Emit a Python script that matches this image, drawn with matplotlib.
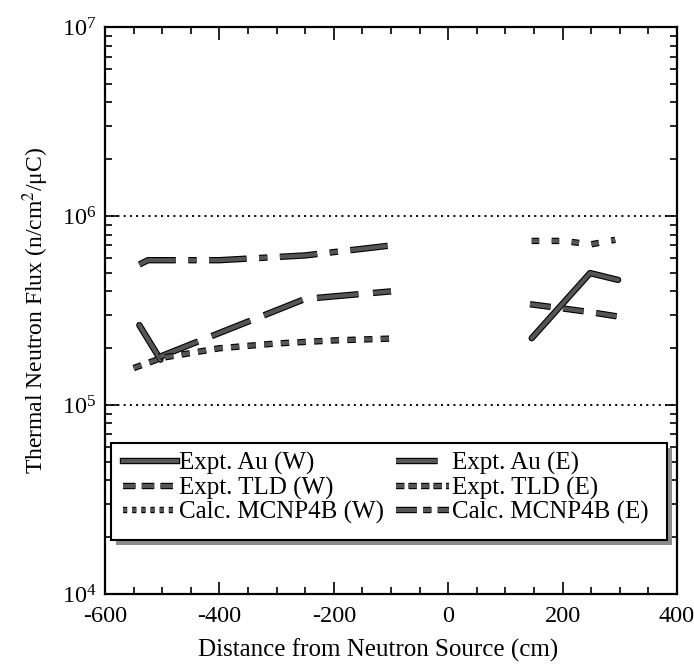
import matplotlib
matplotlib.use("Agg")
import matplotlib.pyplot as plt
import matplotlib.patheffects as pe
from matplotlib.lines import Line2D
from matplotlib.patches import Rectangle
from matplotlib.ticker import MultipleLocator, LogLocator, NullFormatter

plt.rcParams['font.family'] = ['Liberation Serif', 'DejaVu Serif']
plt.rcParams['mathtext.fontset'] = 'stix'
plt.rcParams['axes.unicode_minus'] = False

# West side series
au_w_x = [-540, -503]
au_w_y = [2.65e5, 1.74e5]

tld_w_x = [-505, -250, -100]
tld_w_y = [1.80e5, 3.65e5, 4.00e5]

calc_w_x = [-550, -500, -400, -300, -200, -100]
calc_w_y = [1.57e5, 1.78e5, 2.00e5, 2.12e5, 2.20e5, 2.25e5]

calc_e_x = [-540, -525, -400, -250, -100]
calc_e_y = [5.55e5, 5.85e5, 5.85e5, 6.20e5, 7.00e5]

# East side series
au_e_x = [146, 248, 297]
au_e_y = [2.26e5, 5.00e5, 4.60e5]

tld_e_x = [143, 200, 250, 295]
tld_e_y = [3.42e5, 3.25e5, 3.10e5, 2.95e5]

top_e_x = [146, 200, 250, 292]
top_e_y = [7.40e5, 7.40e5, 7.10e5, 7.50e5]

labels = ["Expt. Au (W)", "Expt. Au (E)", "Expt. TLD (W)", "Expt. TLD (E)",
          "Calc. MCNP4B (W)", "Calc. MCNP4B (E)"]

fig = plt.figure(figsize=(6.94, 6.68), dpi=100)
ax = fig.add_axes([0.1513, 0.1108, 0.8242, 0.8483])

lc = '#555555'
lw = 3.0
peff = [pe.Stroke(linewidth=lw + 1.6, foreground='black'), pe.Normal()]

def draw(x, y, dashes=None):
    kw = dict(color=lc, lw=lw, path_effects=peff, solid_capstyle='round',
              dash_capstyle='butt')
    if dashes is None:
        ax.plot(x, y, '-', **kw)
    else:
        ax.plot(x, y, dashes=dashes, **kw)

draw(au_w_x, au_w_y)
draw(tld_w_x, tld_w_y, dashes=(10, 3.5))
draw(calc_w_x, calc_w_y, dashes=(2, 2))
draw(calc_e_x, calc_e_y, dashes=(9, 3, 2, 3))
draw(au_e_x, au_e_y)
draw(tld_e_x, tld_e_y, dashes=(5, 3))
draw(top_e_x, top_e_y, dashes=(1.8, 3))

ax.set_yscale('log')
ax.set_xlim(-600, 400)
ax.set_ylim(1e4, 1e7)
ax.xaxis.set_major_locator(MultipleLocator(200))
ax.xaxis.set_minor_locator(MultipleLocator(50))
ax.yaxis.set_major_locator(LogLocator(base=10, numticks=10))
ax.yaxis.set_minor_locator(LogLocator(base=10, subs=range(2, 10), numticks=20))
ax.yaxis.set_minor_formatter(NullFormatter())
ax.tick_params(which='both', direction='in', top=True, right=True, width=1.2)
ax.tick_params(which='major', length=9, labelsize=17.5)
ax.tick_params(axis='x', which='major', pad=9)
ax.tick_params(axis='y', which='major', pad=6)
ax.tick_params(which='minor', length=5)
for s in ax.spines.values():
    s.set_linewidth(1.6)

for yv in [1e5, 1e6]:
    ax.axhline(yv, color='black', lw=1.4, ls=(0, (1, 2.2)), zorder=1)

ax.set_xlabel("Distance from Neutron Source (cm)", fontsize=18)
ax.xaxis.set_label_coords(0.477, -0.079)
ax.set_ylabel("Thermal Neutron Flux (n/cm$^2$/\u03bcC)", fontsize=17, labelpad=8)

# legend frame with shadow (axes fraction)
fx, fy, fw, fh = 0.0105, 0.0953, 0.972, 0.171
ax.add_patch(Rectangle((fx + 0.0087, fy - 0.0088), fw, fh, transform=ax.transAxes,
                       facecolor='0.55', edgecolor='none', zorder=4))
ax.add_patch(Rectangle((fx, fy), fw, fh, transform=ax.transAxes,
                       facecolor='white', edgecolor='black', lw=1.5, zorder=4))

hstyles = [None, (10, 3.5, 1.5, 6), (3, 1.5), (2, 1), (1, 1.2), (5, 1.5, 2, 1.5)]
handles = []
for st in hstyles:
    if st is None:
        h = Line2D([], [], color=lc, lw=lw, path_effects=peff)
    else:
        h = Line2D([], [], color=lc, lw=lw, dashes=st, path_effects=peff)
    handles.append(h)
order = [0, 2, 4, 1, 3, 5]
leg = ax.legend([handles[i] for i in order], [labels[i] for i in order],
                ncol=2, loc='upper left', bbox_to_anchor=(0.0315, 0.25),
                fontsize=18, frameon=False, handlelength=2.15,
                handletextpad=0.1, labelspacing=0.05, borderpad=0.0,
                columnspacing=0.45, borderaxespad=0.0)
leg.set_zorder(6)

fig.savefig("out.png", dpi=100)
